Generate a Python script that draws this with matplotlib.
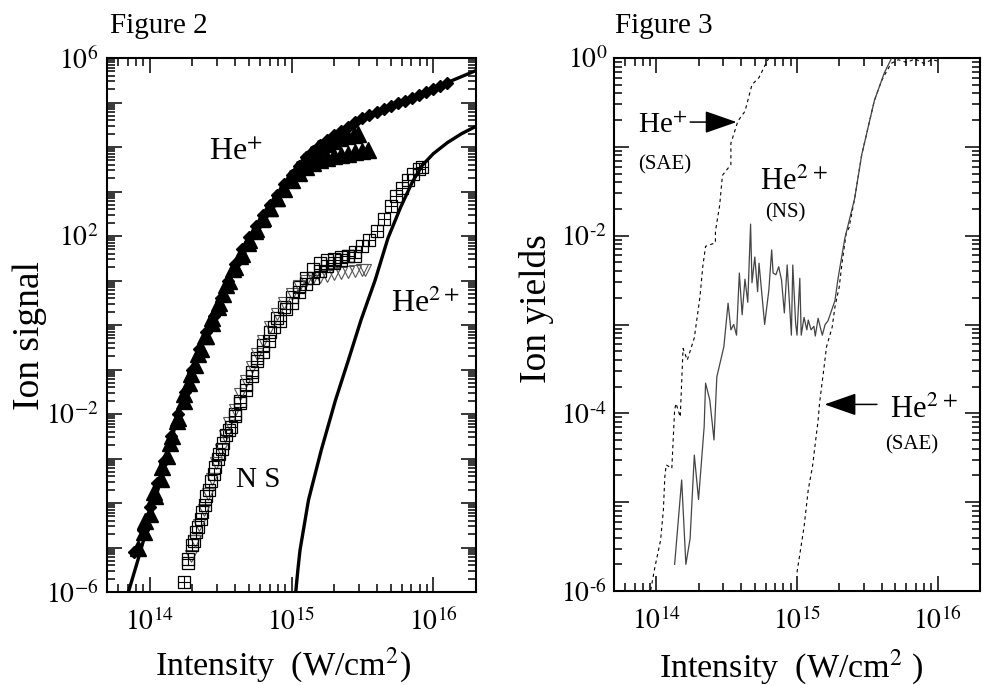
import numpy as np
import matplotlib
matplotlib.use('Agg')
import matplotlib.pyplot as plt
from matplotlib.ticker import LogLocator, FuncFormatter, NullFormatter

plt.rcParams['font.family'] = ['Liberation Serif', 'DejaVu Serif']
plt.rcParams['mathtext.fontset'] = 'stix'

# ---- Figure 2 data (log10 of intensity in W/cm^2, log10 of ion signal) ----
# He+ theory (thick line)
lgI_he1_th = [13.85, 13.92, 14.00, 14.05, 14.10, 14.15, 14.20, 14.30, 14.40, 14.50, 14.60,
              14.70, 14.80, 14.90, 15.00, 15.10, 15.20, 15.35, 15.50, 15.70, 15.90, 16.10, 16.31]
lgS_he1_th = [-6.00, -5.25, -4.35, -3.80, -3.20, -2.60, -2.05, -1.05, -0.20, 0.56, 1.39,
              1.97, 2.44, 2.91, 3.38, 3.77, 4.02, 4.36, 4.66, 4.92, 5.16, 5.45, 5.73]

# He2+ theory (thick line)
lgI_he2_th = [15.03, 15.045, 15.06, 15.12, 15.21, 15.31, 15.40, 15.49, 15.59, 15.68,
              15.77, 15.85, 15.92, 16.00, 16.10, 16.20, 16.31]
lgS_he2_th = [-6.00, -5.50, -5.06, -3.93, -2.81, -1.69, -0.80, 0.11, 1.01, 1.95,
              2.65, 3.20, 3.58, 3.85, 4.10, 4.30, 4.48]

# He+ data, diamonds
lgI_dia = [13.89, 13.95, 14.00, 14.05, 14.10, 14.15, 14.20, 14.25, 14.30, 14.35, 14.40,
           14.45, 14.50, 14.55, 14.60, 14.65, 14.70, 14.75, 14.80, 14.85, 14.90, 14.95,
           15.00, 15.05, 15.10, 15.15, 15.20, 15.25, 15.30, 15.35, 15.40, 15.45, 15.50,
           15.55, 15.60, 15.65, 15.70, 15.75, 15.80, 15.85, 15.90, 15.95, 16.00, 16.05, 16.10]
lgS_dia = [-5.10, -4.60, -4.10, -3.55, -3.05, -2.50, -2.00, -1.50, -1.00, -0.55, -0.15,
           0.20, 0.60, 1.00, 1.38, 1.70, 1.98, 2.22, 2.47, 2.70, 2.93, 3.16,
           3.38, 3.58, 3.77, 3.92, 4.04, 4.15, 4.26, 4.36, 4.46, 4.56, 4.65,
           4.72, 4.79, 4.86, 4.92, 4.98, 5.04, 5.10, 5.16, 5.23, 5.30, 5.37, 5.44]

# He+ data, triangles (two runs that saturate)
lgI_triA = [13.92, 13.96, 14.00, 14.04, 14.08, 14.12, 14.16, 14.20, 14.24, 14.28, 14.32,
            14.36, 14.40, 14.44, 14.48, 14.52, 14.56, 14.60, 14.65, 14.70, 14.75, 14.80,
            14.85, 14.90, 14.95, 15.00, 15.05, 15.10, 15.15, 15.20, 15.25, 15.30, 15.35,
            15.40, 15.45, 15.50, 15.54]
lgS_triA = [-5.00, -4.65, -4.25, -3.85, -3.45, -2.95, -2.50, -2.10, -1.70, -1.30, -0.90,
            -0.55, -0.25, 0.05, 0.40, 0.70, 1.00, 1.30, 1.60, 1.90, 2.15, 2.40,
            2.62, 2.85, 3.05, 3.25, 3.42, 3.55, 3.63, 3.70, 3.75, 3.79, 3.82,
            3.85, 3.88, 3.91, 3.93]
lgI_triB = [13.97, 14.03, 14.09, 14.14, 14.19, 14.24, 14.29, 14.34, 14.39, 14.44, 14.49,
            14.54, 14.59, 14.64, 14.69, 14.74, 14.79, 14.84, 14.89, 14.94, 14.99, 15.04,
            15.09, 15.14, 15.19, 15.24, 15.29, 15.34, 15.39, 15.44, 15.47]
lgS_triB = [-4.40, -3.75, -3.20, -2.65, -2.15, -1.55, -1.10, -0.65, -0.25, 0.15, 0.50,
            0.90, 1.25, 1.55, 1.85, 2.12, 2.38, 2.62, 2.85, 3.08, 3.30, 3.50,
            3.68, 3.84, 3.97, 4.07, 4.14, 4.20, 4.24, 4.27, 4.29]

# He2+ data, crossed squares
lgI_sqx = [14.24, 14.27, 14.30, 14.33, 14.36, 14.39, 14.42, 14.45, 14.48, 14.51, 14.54,
           14.57, 14.60, 14.64, 14.68, 14.72, 14.76, 14.80, 14.84, 14.88, 14.92, 14.96,
           15.00, 15.05, 15.10, 15.15, 15.20, 15.25, 15.30, 15.35, 15.40, 15.45, 15.50,
           15.55, 15.60, 15.65, 15.70, 15.74, 15.78, 15.82, 15.86, 15.90, 15.92]
lgS_sqx = [-5.78, -5.25, -4.95, -4.65, -4.35, -4.05, -3.70, -3.35, -3.00, -2.78, -2.48,
           -2.30, -2.05, -1.75, -1.45, -1.15, -0.80, -0.60, -0.35, -0.05, 0.10, 0.35,
           0.50, 0.75, 0.92, 1.05, 1.22, 1.32, 1.40, 1.47, 1.56, 1.65, 1.77,
           1.92, 2.12, 2.38, 2.68, 2.90, 3.08, 3.25, 3.40, 3.50, 3.55]

# He2+ data, open squares
lgI_sq = [14.27, 14.31, 14.34, 14.37, 14.40, 14.43, 14.46, 14.49, 14.52, 14.56, 14.60,
          14.64, 14.68, 14.72, 14.76, 14.80, 14.85, 14.90, 14.95, 15.00, 15.05, 15.10,
          15.15, 15.20, 15.25, 15.30, 15.35, 15.40, 15.45]
lgS_sq = [-5.35, -4.85, -4.55, -4.20, -3.85, -3.50, -3.20, -2.90, -2.65, -2.35, -2.00,
          -1.70, -1.35, -1.05, -0.75, -0.45, -0.15, 0.15, 0.40, 0.62, 0.85, 1.05,
          1.25, 1.40, 1.45, 1.48, 1.52, 1.55, 1.56]

# He2+ data, open down triangles
lgI_tdn = [14.29, 14.32, 14.35, 14.38, 14.41, 14.44, 14.47, 14.50, 14.53, 14.56, 14.60,
           14.64, 14.68, 14.72, 14.76, 14.80, 14.85, 14.90, 14.95, 15.00, 15.05, 15.10,
           15.15, 15.20, 15.25, 15.30, 15.35, 15.40, 15.45, 15.50, 15.52]
lgS_tdn = [-5.20, -4.85, -4.50, -4.15, -3.80, -3.45, -3.10, -2.80, -2.50, -2.20, -1.90,
           -1.55, -1.25, -0.95, -0.65, -0.35, -0.05, 0.25, 0.50, 0.70, 0.88, 1.00,
           1.05, 1.08, 1.11, 1.14, 1.17, 1.19, 1.21, 1.23, 1.24]

# ---- Figure 3 data (log10 intensity, log10 ion yield) ----
lgI_he1_sae = [13.96, 13.99, 14.03, 14.05, 14.06, 14.07, 14.11, 14.13, 14.14, 14.17, 14.19,
               14.22, 14.27, 14.31, 14.33, 14.35, 14.42, 14.42, 14.45, 14.47, 14.53, 14.53,
               14.58, 14.63, 14.68, 14.73, 14.77, 14.80, 16.31]
lgY_he1_sae = [-5.99, -5.73, -5.43, -5.09, -4.72, -4.58, -4.62, -3.96, -3.89, -4.04, -3.27,
               -3.40, -3.15, -2.69, -2.35, -2.12, -2.08, -1.95, -1.66, -1.32, -1.20, -0.96,
               -0.71, -0.60, -0.30, -0.22, -0.09, 0.00, 0.00]

lgI_he2_sae = [15.00, 15.05, 15.08, 15.11, 15.15, 15.16, 15.19, 15.21, 15.25, 15.27, 15.30,
               15.32, 15.35, 15.37, 15.41, 15.46, 15.51, 15.55, 15.60, 15.63, 15.67, 15.72,
               15.78, 15.84, 15.90, 15.96, 16.02]
lgY_he2_sae = [-5.79, -5.28, -4.86, -4.60, -4.08, -3.89, -3.51, -3.25, -3.03, -2.80, -2.58,
               -2.31, -1.97, -1.91, -1.58, -1.09, -0.75, -0.48, -0.26, -0.17, -0.06, -0.02,
               -0.05, -0.01, -0.06, -0.02, -0.04]

lgI_he2_ns = [14.13, 14.18, 14.21, 14.24, 14.27, 14.30, 14.34, 14.35, 14.38, 14.41, 14.43,
              14.48, 14.51, 14.53, 14.55, 14.57, 14.59, 14.61, 14.63, 14.65, 14.67, 14.68,
              14.70, 14.72, 14.73, 14.77, 14.80, 14.82, 14.83, 14.85, 14.87, 14.89, 14.91,
              14.93, 14.96, 14.97, 14.99, 15.00, 15.02, 15.03, 15.05, 15.07, 15.08, 15.10,
              15.12, 15.13, 15.15, 15.17, 15.18, 15.20, 15.22, 15.27, 15.29, 15.31, 15.34,
              15.41, 15.46, 15.51, 15.55, 15.62, 15.67]
lgY_he2_ns = [-5.70, -4.75, -5.70, -5.41, -4.47, -4.97, -4.15, -3.66, -3.85, -4.30, -3.59,
              -3.25, -2.76, -3.06, -3.00, -3.12, -2.42, -2.89, -2.49, -2.75, -1.87, -2.53,
              -2.24, -2.63, -2.31, -3.00, -2.61, -2.16, -2.42, -2.44, -2.35, -2.50, -2.87,
              -2.33, -3.12, -2.33, -2.98, -3.12, -2.48, -3.12, -2.92, -3.06, -2.95, -3.06,
              -3.02, -3.13, -2.93, -3.06, -3.12, -3.00, -2.96, -2.73, -2.50, -2.31, -2.03,
              -1.58, -1.09, -0.75, -0.48, -0.17, -0.01]


def p10(v):
    return 10.0 ** np.asarray(v)


fig = plt.figure(figsize=(9.82, 6.85), dpi=100)
ax1 = fig.add_axes([107 / 982, 93 / 685, 369 / 982, 534 / 685])
ax2 = fig.add_axes([614 / 982, 94 / 685, 366 / 982, 533 / 685])


def left_y(v, pos):
    e = int(round(np.log10(v)))
    return r'$10^{%d}$' % e if e in (6, 2, -2, -6) else ''


def right_y(v, pos):
    e = int(round(np.log10(v)))
    if e == 0:
        return r'$10^{0}$'
    return r'$10^{\text{-}%d}$' % -e if e in (-2, -4, -6) else ''


def x_fmt(v, pos):
    e = int(round(np.log10(v)))
    return r'$10^{%d}$' % e if e in (14, 15, 16) else ''


for ax in (ax1, ax2):
    ax.set_xscale('log')
    ax.set_yscale('log')
    ax.set_xlim(5e13, 2e16)
    for axis in (ax.xaxis, ax.yaxis):
        axis.set_major_locator(LogLocator(base=10, subs=(1.0,), numticks=100))
        axis.set_minor_locator(LogLocator(base=10, subs=np.arange(2, 10), numticks=100))
        axis.set_minor_formatter(NullFormatter())
    ax.xaxis.set_major_formatter(FuncFormatter(x_fmt))
    ax.tick_params(which='both', direction='in', top=True, right=True, width=1.1,
                   labelsize=20)
    ax.tick_params(which='major', length=11)
    ax.tick_params(which='minor', length=5.5)
    ax.tick_params(axis='x', pad=12)
    for s in ax.spines.values():
        s.set_linewidth(1.5)

ax1.set_ylim(1e-6, 1e6)
ax1.yaxis.set_major_formatter(FuncFormatter(left_y))
ax1.tick_params(axis='y', pad=6)
ax2.set_ylim(1e-6, 1)
ax2.yaxis.set_major_formatter(FuncFormatter(right_y))
ax2.tick_params(axis='y', pad=5)

# Figure 2
ax1.plot(p10(lgI_he1_th), p10(lgS_he1_th), '-', color='k', lw=2.4, zorder=2)
ax1.plot(p10(lgI_he2_th), p10(lgS_he2_th), '-', color='k', lw=2.4, zorder=2)
ax1.plot(p10(lgI_triA), p10(lgS_triA), '^', color='k', ms=11, zorder=3)
ax1.plot(p10(lgI_triB), p10(lgS_triB), '^', color='k', ms=11, zorder=3)
ax1.plot(p10(lgI_dia), p10(lgS_dia), 'D', color='k', ms=6.5, zorder=3)
ax1.plot(p10(lgI_sq), p10(lgS_sq), 's', mfc='none', mec='k', ms=8, mew=0.9, zorder=3)
ax1.plot(p10(lgI_tdn), p10(lgS_tdn), 'v', mfc='none', mec='#555555', ms=9, mew=0.8, zorder=3)
ax1.plot(p10(lgI_sqx), p10(lgS_sqx), 's', mfc='none', mec='k', ms=8, mew=0.9, zorder=3)
ax1.plot(p10(lgI_sqx), p10(lgS_sqx), '+', color='k', ms=8, mew=0.8, zorder=3)

ax1.text(2.6e14, 5.1e3, r'He$^{+}$', fontsize=23, va='baseline')
ax1.text(5.0e15, 1.95, r'He$^{2+}$', fontsize=23, va='baseline')
ax1.text(4.08e14, 2.3e-4, 'N S', fontsize=21, va='baseline')

# Figure 3
ax2.plot(p10(lgI_he1_sae), p10(lgY_he1_sae), color='k', lw=0.8, ls=(0, (3, 3)), zorder=2)
ax2.plot(p10(lgI_he2_sae), p10(lgY_he2_sae), color='k', lw=0.8, ls=(0, (3, 3)), zorder=2)
ax2.plot(p10(lgI_he2_ns), p10(lgY_he2_ns), color='#444444', lw=0.9, zorder=3)

arrow = dict(arrowstyle='-|>,head_length=1.0,head_width=0.35', color='k', lw=1.1,
             mutation_scale=20, shrinkA=0, shrinkB=0)
ax2.annotate('', xy=(3.72e14, 0.19), xytext=(1.74e14, 0.19), arrowprops=arrow)
ax2.annotate('', xy=(1.57e15, 1.26e-4), xytext=(3.7e15, 1.26e-4), arrowprops=arrow)

ax2.text(7.35e13, 0.143, r'He$^{+}$', fontsize=21, va='baseline')
ax2.text(7.4e13, 0.055, '(SAE)', fontsize=15, va='baseline')
ax2.text(5.5e14, 0.0327, r'He$^{2\,+}$', fontsize=22, va='baseline')
ax2.text(5.96e14, 0.0162, '(NS)', fontsize=15, va='baseline')
ax2.text(4.57e15, 8.9e-5, r'He$^{2\,+}$', fontsize=22, va='baseline')
ax2.text(4.24e15, 3.9e-5, '(SAE)', fontsize=15, va='baseline')

# titles and axis labels
fig.text(110 / 982, 1 - 33 / 685, 'Figure 2', fontsize=21, va='baseline')
fig.text(615 / 982, 1 - 33 / 685, 'Figure 3', fontsize=21, va='baseline')
fig.text(283 / 982, 10 / 685, r'Intensity  (W/cm$^{2}$)', fontsize=24.5, ha='center', va='baseline')
fig.text(791 / 982, 8 / 685, r'Intensity  (W/cm$^{2}$ )', fontsize=24.5, ha='center', va='baseline')
fig.text(30 / 982, 1 - 336 / 685, 'Ion signal', fontsize=27, rotation=90, ha='center', va='center')
fig.text(537 / 982, 1 - 309 / 685, 'Ion yields', fontsize=27, rotation=90, ha='center', va='center')

fig.savefig('out.png', dpi=100)
